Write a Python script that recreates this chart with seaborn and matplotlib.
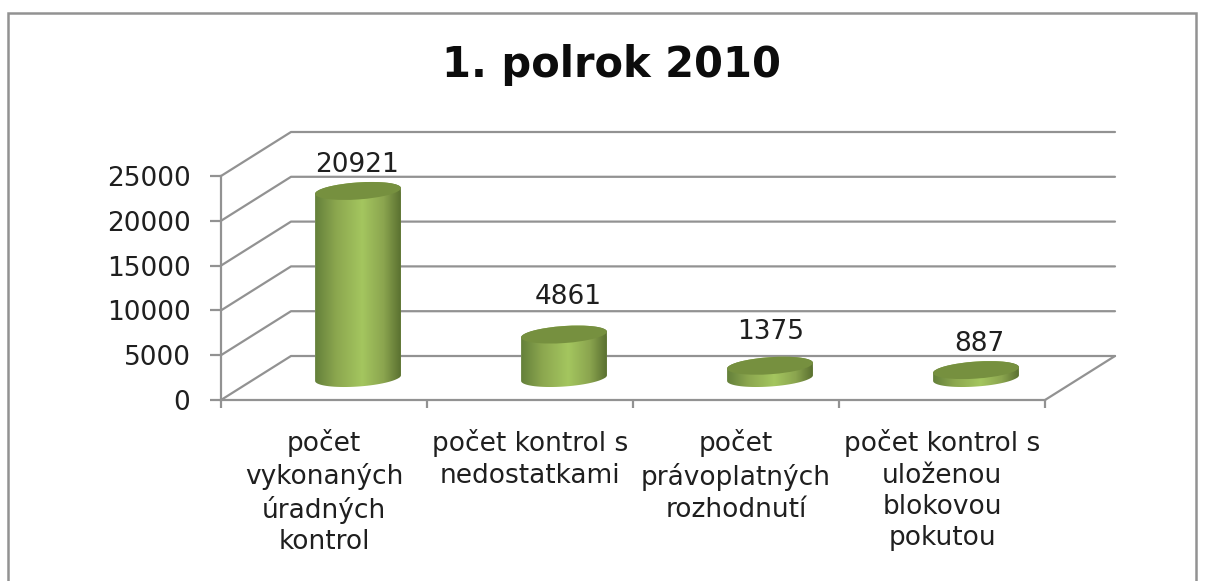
"""Recreate the cylinder chart for the first half of 2010."""

import matplotlib

matplotlib.use("Agg")

from matplotlib.collections import EllipseCollection
from matplotlib.colors import LinearSegmentedColormap
from matplotlib.patches import Rectangle
from matplotlib.path import Path
from matplotlib.transforms import IdentityTransform
import matplotlib.pyplot as plt
import numpy as np
import pandas as pd
import seaborn as sns

TITLE = "1. polrok 2010"
CATEGORIES = [
    "počet\nvykonaných\núradných\nkontrol",
    "počet kontrol s\nnedostatkami",
    "počet\nprávoplatných\nrozhodnutí",
    "počet kontrol s\nuloženou\nblokovou\npokutou",
]
VALUES = [20921, 4861, 1375, 887]
Y_TICKS = [0, 5000, 10000, 15000, 20000, 25000]

WIDTH, HEIGHT = 1207, 581
LINE_GRAY = "#929292"
TEXT_COLOR = "#1f1f1f"
TOP_COLOR = "#76903f"
BODY_STOPS = [
    (0.0, "#64803a"),
    (0.25, "#8ca74f"),
    (0.55, "#a4c65f"),
    (0.8, "#8ba54f"),
    (1.0, "#5a7030"),
]
LABEL_SHIFTS = [(-1, 26), (4, 38), (1, 34), (3, 26)]
FONT_SIZE = 19

# depth of the fake 3D box, in pixels
DEPTH_X, DEPTH_Y = 70, 44
ELLIPSE_A, ELLIPSE_B, TILT = 43, 8.5, 4


def pixel_axes(fig, left, top, right, bottom):
    """Add axes placed by image pixel coordinates."""
    return fig.add_axes(
        [
            left / WIDTH,
            1 - bottom / HEIGHT,
            (right - left) / WIDTH,
            (bottom - top) / HEIGHT,
        ]
    )


def half_ellipse(cx, cy, start, stop):
    """Return points of a tilted ellipse arc in display coordinates."""
    t = np.linspace(start, stop, 40)
    theta = np.radians(TILT)
    x = ELLIPSE_A * np.cos(t) * np.cos(theta) - ELLIPSE_B * np.sin(t) * np.sin(theta)
    y = ELLIPSE_A * np.cos(t) * np.sin(theta) + ELLIPSE_B * np.sin(t) * np.cos(theta)
    return np.column_stack([cx + x, cy + y])


def plot_box(fig, ax):
    """Draw the axis lines, ticks and the receding grid."""
    ax.set_xlim(0, len(CATEGORIES))
    ax.set_ylim(0, 25000)
    ax.set_facecolor("none")
    sns.despine(ax=ax)
    for side in ("left", "bottom"):
        ax.spines[side].set_color(LINE_GRAY)
        ax.spines[side].set_linewidth(1.6)

    ax.set_yticks(Y_TICKS)
    ax.set_xticks(range(len(CATEGORIES) + 1))
    ax.set_xticklabels([])
    ax.set_xticks(np.arange(len(CATEGORIES)) + 0.5, minor=True)
    ax.set_xticklabels(CATEGORIES, minor=True, fontsize=FONT_SIZE, color=TEXT_COLOR, linespacing=1.27)
    ax.tick_params(axis="y", length=8, width=1.6, color=LINE_GRAY, pad=14, labelsize=FONT_SIZE, labelcolor=TEXT_COLOR, left=True)
    ax.tick_params(axis="x", which="major", length=6, width=1.6, color=LINE_GRAY, bottom=True)
    ax.tick_params(axis="x", which="minor", length=0, pad=21)

    dx = DEPTH_X / (ax.get_window_extent().width / len(CATEGORIES))
    dy = DEPTH_Y / ax.get_window_extent().height * 25000
    end = len(CATEGORIES)
    for tick in Y_TICKS:
        ax.plot([0, dx, end + dx], [tick, tick + dy, tick + dy], color=LINE_GRAY, lw=1.6, clip_on=False, zorder=1)
    ax.plot([end, end + dx], [0, dy], color=LINE_GRAY, lw=1.6, clip_on=False, zorder=1)


def plot_cylinders(fig, ax, data):
    """Draw the bars with seaborn and shape them as shaded cylinders."""
    sns.barplot(data=data, x="category", y="value", color=BODY_STOPS[2][1], width=86 / 206, ax=ax)
    ax.set_xlim(-0.5, len(CATEGORIES) - 0.5)
    ax.set_ylim(-2000, 27000)
    ax.set_axis_off()

    cmap = LinearSegmentedColormap.from_list("body", BODY_STOPS)
    gradient = np.linspace(0, 1, 256).reshape(1, -1)
    to_pixels = IdentityTransform()
    centers = []

    for bar, value in zip(ax.patches, VALUES):
        mid = bar.get_x() + bar.get_width() / 2
        centers.append((mid, value))
        cx, base_y = ax.transData.transform((mid, 0))
        _, top_y = ax.transData.transform((mid, value))
        outline = np.vstack(
            [
                half_ellipse(cx, base_y, np.pi, 2 * np.pi),
                half_ellipse(cx, top_y, 0, np.pi),
            ]
        )
        silhouette = Path(np.vstack([outline, outline[:1]]), closed=True)
        bar.set_clip_path(silhouette, to_pixels)
        image = ax.imshow(
            gradient,
            cmap=cmap,
            aspect="auto",
            extent=(bar.get_x(), bar.get_x() + bar.get_width(), -1500, value + 1500),
            zorder=3,
        )
        image.set_clip_path(silhouette, to_pixels)

    tops = EllipseCollection(
        widths=[2 * ELLIPSE_A] * len(VALUES),
        heights=[2 * ELLIPSE_B] * len(VALUES),
        angles=[TILT] * len(VALUES),
        units="dots",
        offsets=centers,
        offset_transform=ax.transData,
        facecolors=TOP_COLOR,
        edgecolors="none",
        zorder=4,
    )
    ax.add_collection(tops)
    ax.set_xlim(-0.5, len(CATEGORIES) - 0.5)
    ax.set_ylim(-2000, 27000)

    for (mid, value), shift in zip(centers, LABEL_SHIFTS):
        ax.annotate(
            str(value),
            xy=(mid, value),
            xytext=shift,
            textcoords="offset pixels",
            ha="center",
            va="center",
            fontsize=FONT_SIZE,
            color=TEXT_COLOR,
            zorder=5,
        )


def main():
    sns.set_theme(style="white", font="DejaVu Sans")
    data = pd.DataFrame({"category": CATEGORIES, "value": VALUES})

    fig = plt.figure(figsize=(WIDTH / 100, HEIGHT / 100), dpi=100, facecolor="white")

    # chart frame, its bottom edge falls outside the picture
    fig.add_artist(
        Rectangle(
            (8 / WIDTH, -0.05),
            (1196 - 8) / WIDTH,
            1.05 - 13 / HEIGHT,
            transform=fig.transFigure,
            facecolor="white",
            edgecolor=LINE_GRAY,
            linewidth=1.8,
            zorder=-1,
        )
    )
    fig.text(612 / WIDTH, 1 - 65 / HEIGHT, TITLE, ha="center", va="center", fontsize=30, fontweight="bold", color="#0c0c0c")

    box_ax = pixel_axes(fig, 221, 176, 1045, 400)
    plot_box(fig, box_ax)

    # bars stand halfway into the box, so they get their own shifted axes
    bar_ax = pixel_axes(fig, 255, 136.6, 1079, 395.9)
    bar_ax.set_facecolor("none")
    plot_cylinders(fig, bar_ax, data)

    fig.savefig("out.png", dpi=100)
    plt.close(fig)


if __name__ == "__main__":
    main()
